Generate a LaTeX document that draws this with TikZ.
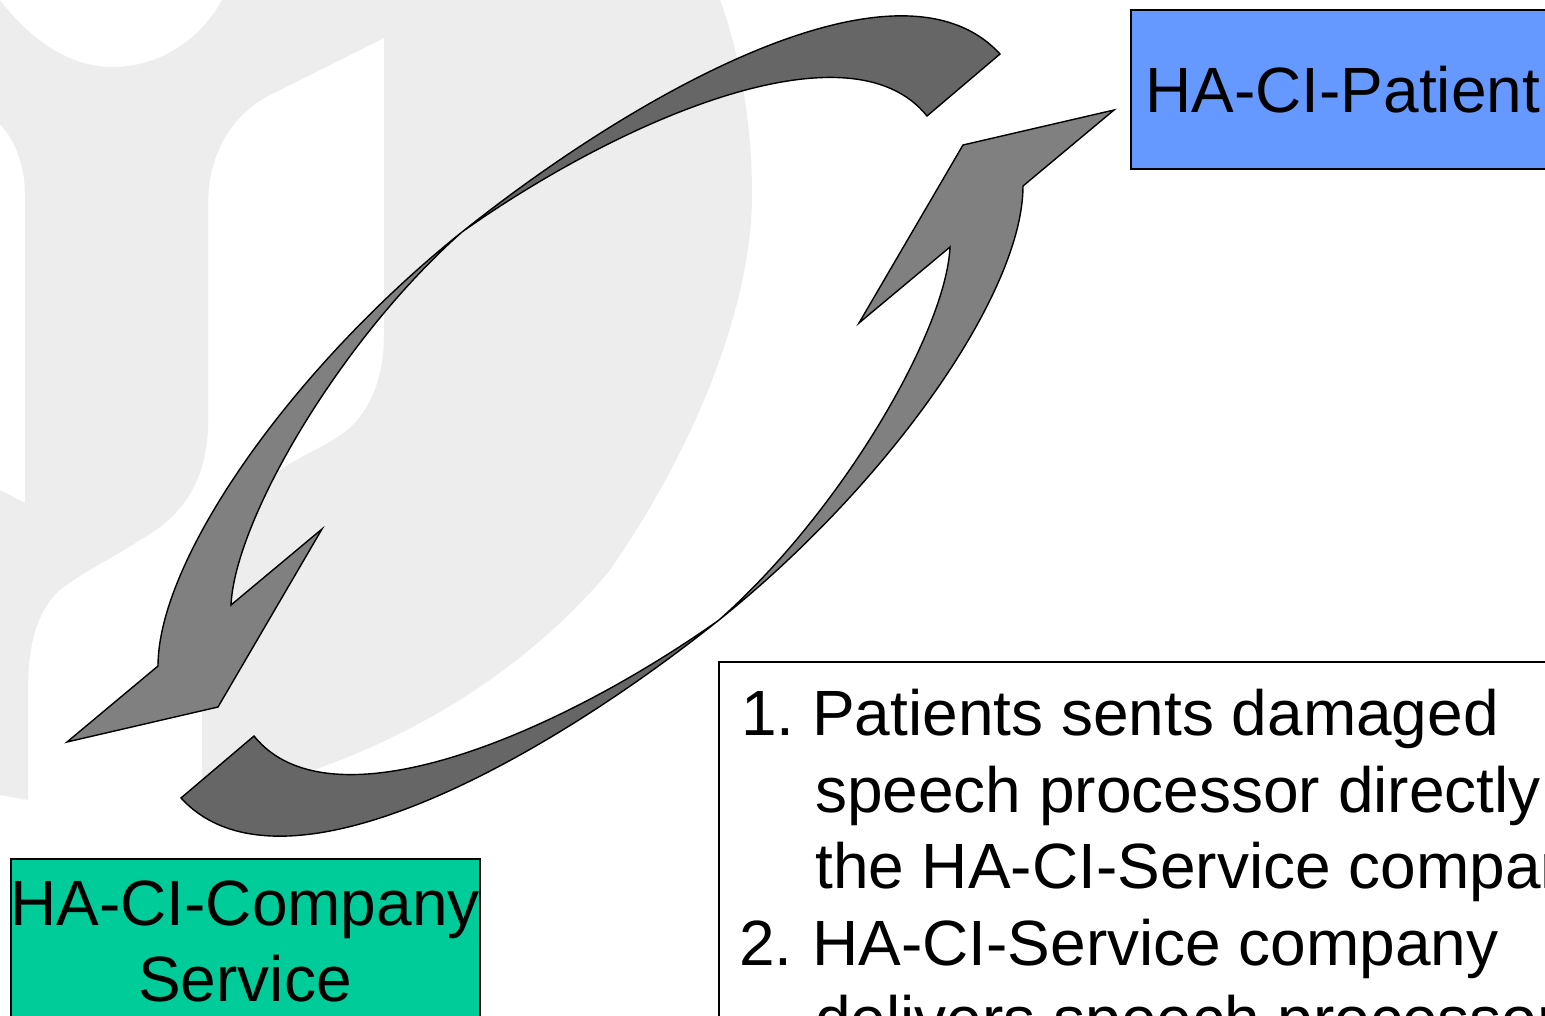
\documentclass[tikz,border=0pt]{standalone}
\usepackage{fontspec}
\setmainfont{Liberation Sans}
\definecolor{wm}{HTML}{EDEDED}
\definecolor{headgray}{HTML}{808080}
\definecolor{tailgray}{HTML}{666666}
\definecolor{bluebox}{HTML}{6699FF}
\definecolor{greenbox}{HTML}{00CC99}
\tikzset{
  boxstyle/.style={draw=black,line width=1.5pt,rectangle,inner sep=0pt,anchor=north west},
  bigtext/.style={inner sep=0pt,font=\fontsize{64}{76.5}\selectfont,text=black},
  headpart/.style={fill=headgray,draw=black,line width=1.4pt,line join=miter},
  tailpart/.style={fill=tailgray,draw=black,line width=1.4pt,line join=miter}
}
\begin{document}
\begin{tikzpicture}[x=1pt,y=-1pt]
\useasboundingbox (0,0) rectangle (1545,1015);
\clip (0,0) rectangle (1545,1015);
\fill[white] (0,0) rectangle (1545,1015);
% watermark
\fill[wm] (0,124) -- (0,0) .. controls (30,40) and (70,67) .. (112,67)
  .. controls (160,67) and (200,40) .. (222,0) -- (720,0)
  .. controls (742,60) and (752,130) .. (752,195)
  .. controls (752,300) and (700,440) .. (610,570)
  .. controls (510,690) and (360,770) .. (202,800)
  -- (202,650) .. controls (204,570) and (235,510) .. (270,478)
  .. controls (290,460) and (320,450) .. (345,432)
  .. controls (372,410) and (384,375) .. (384,335)
  -- (384,38) -- (272,94) .. controls (235,112) and (208,150) .. (208,205)
  -- (208,430) .. controls (205,480) and (185,515) .. (140,540)
  .. controls (110,560) and (85,570) .. (60,590)
  .. controls (35,612) and (28,650) .. (28,690)
  -- (28,800) -- (0,795) -- (0,490) -- (25,503) -- (25,195)
  .. controls (25,165) and (15,140) .. (0,124) -- cycle;
% upper arrow
\path[tailpart] (462,232) .. controls (640,90) and (900,-55) .. (1000,54)
  -- (927,116) .. controls (850,20) and (620,120) .. (462,232) -- cycle;
\path[headpart] (462,232) .. controls (290,370) and (158,560) .. (158,666)
  -- (67,742) -- (218,707) -- (322,529) -- (231,605)
  .. controls (235,520) and (340,340) .. (462,232) -- cycle;
% lower arrow (point reflection of the upper one)
\path[tailpart] (719,620) .. controls (541,762) and (281,907) .. (181,798)
  -- (254,736) .. controls (331,832) and (561,732) .. (719,620) -- cycle;
\path[headpart] (719,620) .. controls (891,482) and (1023,292) .. (1023,186)
  -- (1114,110) -- (963,145) -- (859,323) -- (950,247)
  .. controls (946,332) and (841,512) .. (719,620) -- cycle;
% boxes
\node[boxstyle,fill=bluebox,minimum width=440pt,minimum height=159pt] (patient) at (1130,9) {};
\node[bigtext,anchor=base west] (patienttext) at (1145,112) {HA-CI-Patient};
\node[boxstyle,fill=greenbox,minimum width=469pt,minimum height=190pt] (company) at (10,858) {};
\node[bigtext,anchor=base,align=center] (companytext1) at (245,925) {HA-CI-Company};
\node[bigtext,anchor=base] (companytext2) at (245,1001) {Service};
\node[boxstyle,fill=white,minimum width=860pt,minimum height=400pt] (steps) at (718,661) {};
\node[bigtext,anchor=base west] (n1) at (741,735) {1.};
\node[bigtext,anchor=base west] (l1) at (812,735) {Patients sents damaged};
\node[bigtext,anchor=base west] (l2) at (815,812) {speech processor directly};
\node[bigtext,anchor=base west] (l3) at (815,888) {the HA-CI-Service company};
\node[bigtext,anchor=base west] (n2) at (739,965) {2.};
\node[bigtext,anchor=base west] (l4) at (812,965) {HA-CI-Service company};
\node[bigtext,anchor=base west] (l5) at (815,1041) {delivers speech processor};
\end{tikzpicture}
\end{document}
